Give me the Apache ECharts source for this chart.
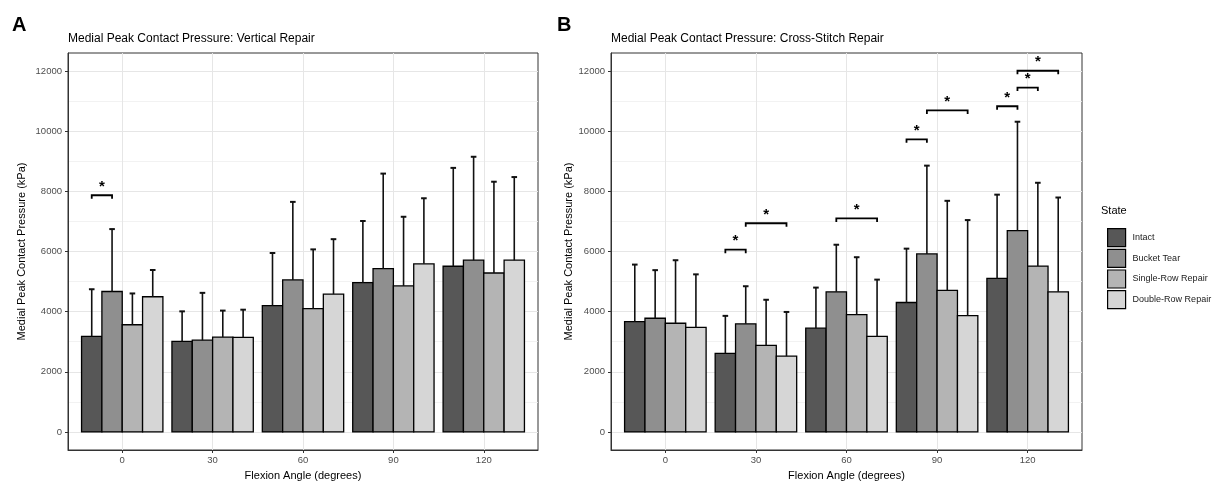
<!DOCTYPE html>
<html>
<head>
<meta charset="utf-8">
<script src="https://cdn.jsdelivr.net/npm/echarts@6/dist/echarts.min.js"></script>
<style>
html,body{margin:0;padding:0;background:#fff;}
#chart{width:1229px;height:486px;}
</style>
</head>
<body>
<div id="chart"></div>
<script>
// ---------- data ----------
const categories = ['0', '30', '60', '90', '120'];
const states = ['Intact', 'Bucket Tear', 'Single-Row Repair', 'Double-Row Repair'];
const stateColors = ['#575757', '#8f8f8f', '#b4b4b4', '#d6d6d6'];

const yMajor = [0, 2000, 4000, 6000, 8000, 10000, 12000];
const yMinor = [1000, 3000, 5000, 7000, 9000, 11000];

// Panel A: Vertical repair (mean, mean + SD)
const A_intact     = [3180, 3010, 4200, 4965, 5510];
const A_intactErr  = [4745, 4010, 5950, 7015, 8780];
const A_bucket     = [4670, 3050, 5055, 5430, 5710];
const A_bucketErr  = [6745, 4625, 7650, 8590, 9150];
const A_single     = [3565, 3155, 4100, 4855, 5285];
const A_singleErr  = [4605, 4035, 6070, 7155, 8320];
const A_double     = [4495, 3145, 4585, 5590, 5710];
const A_doubleErr  = [5385, 4065, 6410, 7770, 8475];

// Panel B: Cross-stitch repair
const B_intact     = [3670, 2610, 3450, 4305, 5105];
const B_intactErr  = [5565, 3860, 4800, 6095, 7890];
const B_bucket     = [3780, 3595, 4660, 5920, 6695];
const B_bucketErr  = [5380, 4845, 6225, 8855, 10315];
const B_single     = [3615, 2880, 3900, 4710, 5515];
const B_singleErr  = [5710, 4395, 5810, 7685, 8285];
const B_double     = [3475, 2520, 3180, 3870, 4660];
const B_doubleErr  = [5240, 3990, 5065, 7045, 7795];

// significance brackets: [category index, from state, to state, height]
const A_sig = [[0, 0, 1, 7870]];
const B_sig = [
  [1, 0, 1, 6060], [1, 1, 3, 6940],
  [2, 1, 3, 7100],
  [3, 0, 1, 9730], [3, 1, 3, 10690],
  [4, 0, 1, 10830], [4, 1, 2, 11450], [4, 1, 3, 12010]
];

// ---------- chart ----------
const FONT = 'Liberation Sans, Arial, Helvetica, sans-serif';
const chart = echarts.init(document.getElementById('chart'));

function barRenderer(si) {
  return function (params, api) {
    const c = api.value(0), v = api.value(1), e = api.value(2);
    const unit = api.size([1, 0])[0];
    const bw = unit * 0.9 / 4;
    const cx = api.coord([c, 0])[0];
    const x0 = cx - unit * 0.45 + si * bw;
    const mid = x0 + bw / 2;
    const top = api.coord([c, v])[1];
    const base = api.coord([c, 0])[1];
    const et = api.coord([c, e])[1];
    return {
      type: 'group',
      children: [
        { type: 'rect', shape: { x: x0, y: top, width: bw, height: base - top },
          style: { fill: api.visual('color'), stroke: '#000', lineWidth: 1.3 } },
        { type: 'line', shape: { x1: mid, y1: top, x2: mid, y2: et },
          style: { stroke: '#111', lineWidth: 1.6 } },
        { type: 'line', shape: { x1: mid - 2.8, y1: et, x2: mid + 2.8, y2: et },
          style: { stroke: '#111', lineWidth: 2 } }
      ]
    };
  };
}

function sigRenderer(params, api) {
  const c = api.value(0), a = api.value(1), b = api.value(2), h = api.value(3);
  const unit = api.size([1, 0])[0];
  const bw = unit * 0.9 / 4;
  const cx = api.coord([c, 0])[0];
  const xa = cx - unit * 0.45 + (a + 0.5) * bw;
  const xb = cx - unit * 0.45 + (b + 0.5) * bw;
  const y = api.coord([c, h])[1];
  return {
    type: 'group',
    children: [
      { type: 'polyline', shape: { points: [[xa, y + 3.5], [xa, y], [xb, y], [xb, y + 3.5]] },
        style: { stroke: '#000', lineWidth: 1.8, fill: null } },
      { type: 'text', style: { text: '*', x: (xa + xb) / 2, y: y - 1, align: 'center',
        verticalAlign: 'bottom', font: 'bold 15px ' + FONT, fill: '#000' } }
    ]
  };
}

const panels = [
  { left: 68, right: 1229 - 538, nameGap: 41,
    data: [[A_intact, A_intactErr], [A_bucket, A_bucketErr], [A_single, A_singleErr], [A_double, A_doubleErr]],
    sig: A_sig },
  { left: 611, right: 1229 - 1082, nameGap: 35,
    data: [[B_intact, B_intactErr], [B_bucket, B_bucketErr], [B_single, B_singleErr], [B_double, B_doubleErr]],
    sig: B_sig }
];

const grids = [], xAxes = [], yAxes = [], series = [];
panels.forEach((p, pi) => {
  grids.push({ left: p.left, right: p.right, top: 53, bottom: 33, show: true,
    borderColor: '#333', borderWidth: 1, backgroundColor: 'transparent' });
  xAxes.push({
    type: 'value', gridIndex: pi, min: -0.6, max: 4.6, position: 'bottom',
    name: 'Flexion Angle (degrees)', nameLocation: 'middle', nameGap: 20,
    nameTextStyle: { fontFamily: FONT, fontSize: 11, color: '#000' },
    axisLine: { show: true, onZero: false, lineStyle: { color: '#333' } },
    axisTick: { show: true, length: 3, lineStyle: { color: '#333' }, customValues: [0, 1, 2, 3, 4] },
    axisLabel: { customValues: [0, 1, 2, 3, 4], formatter: v => categories[Math.round(v)],
      fontFamily: FONT, fontSize: 9.5, color: '#4d4d4d', margin: 5 },
    splitLine: { show: true, lineStyle: { color: '#e6e6e6', width: 1 } }
  });
  yAxes.push({
    type: 'value', gridIndex: pi, min: -600, max: 12600, position: 'left',
    name: 'Medial Peak Contact Pressure (kPa)', nameLocation: 'middle', nameGap: p.nameGap,
    nameRotate: 90,
    nameTextStyle: { fontFamily: FONT, fontSize: 11, color: '#000' },
    axisLine: { show: true, onZero: false, lineStyle: { color: '#333' } },
    axisTick: { show: true, length: 3, lineStyle: { color: '#333' }, customValues: yMajor },
    axisLabel: { customValues: yMajor, formatter: v => String(v),
      fontFamily: FONT, fontSize: 9.5, color: '#4d4d4d', margin: 6 },
    splitLine: { show: true, lineStyle: { color: '#e6e6e6', width: 1 } },
    z: 1
  });
  // minor gridlines axis
  yAxes.push({
    type: 'value', gridIndex: pi, min: -600, max: 12600, position: 'left',
    axisLine: { show: false, onZero: false }, axisLabel: { show: false },
    axisTick: { show: false, customValues: yMinor },
    splitLine: { show: true, lineStyle: { color: '#efefef', width: 0.8 } },
    z: 0
  });
});

panels.forEach((p, pi) => {
  p.data.forEach((pair, si) => {
    series.push({
      type: 'custom', name: states[si], xAxisIndex: pi, yAxisIndex: pi * 2,
      itemStyle: { color: stateColors[si] },
      renderItem: barRenderer(si),
      encode: { x: 0, y: [1, 2] },
      data: categories.map((c, i) => [i, pair[0][i], pair[1][i]]),
      silent: true, z: 3
    });
  });
  series.push({
    type: 'custom', name: 'sig' + pi, xAxisIndex: pi, yAxisIndex: pi * 2,
    renderItem: sigRenderer, encode: { x: 0, y: 3 },
    data: p.sig, silent: true, z: 4
  });
});

chart.setOption({
  animation: false,
  backgroundColor: '#fff',
  textStyle: { fontFamily: FONT },
  grid: grids, xAxis: xAxes, yAxis: yAxes, series: series,
  legend: {
    orient: 'vertical', left: 1102, top: 223, itemWidth: 18, itemHeight: 18, itemGap: 1.5,
    icon: 'rect', selectedMode: false,
    textStyle: { fontFamily: FONT, fontSize: 9, color: '#1a1a1a', padding: [0, 0, 0, 2] },
    data: states.map((s, i) => ({ name: s, itemStyle: { color: stateColors[i], borderColor: '#000', borderWidth: 1.2 } }))
  },
  graphic: [
    { type: 'text', left: 12, top: 15, style: { text: 'A', font: 'bold 20px ' + FONT, fill: '#000' } },
    { type: 'text', left: 557, top: 15, style: { text: 'B', font: 'bold 20px ' + FONT, fill: '#000' } },
    { type: 'text', left: 68, top: 33, style: { text: 'Medial Peak Contact Pressure: Vertical Repair', font: '12px ' + FONT, fill: '#000' } },
    { type: 'text', left: 611, top: 33, style: { text: 'Medial Peak Contact Pressure: Cross-Stitch Repair', font: '12px ' + FONT, fill: '#000' } },
    { type: 'text', left: 1101, top: 205, style: { text: 'State', font: '11px ' + FONT, fill: '#000' } }
  ]
});
</script>
</body>
</html>
